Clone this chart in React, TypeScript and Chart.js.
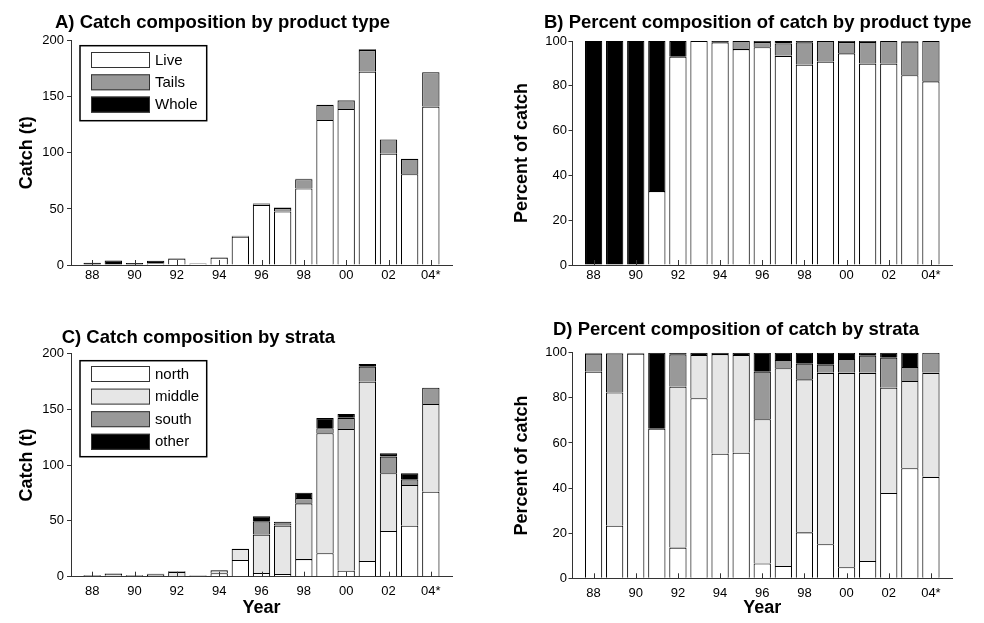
import React, { useEffect, useRef } from "react";
import { Chart, registerables } from "chart.js";

Chart.register(...registerables);

// ---------- data ----------
const years = [1988, 1989, 1990, 1991, 1992, 1993, 1994, 1995, 1996, 1997, 1998, 1999, 2000, 2001, 2002, 2003, 2004];
const tickYears = [1988, 1990, 1992, 1994, 1996, 1998, 2000, 2002, 2004];
const tickLabels = ["88", "90", "92", "94", "96", "98", "00", "02", "04*"];

// A) catch (t) by product type
const liveCatch = [0, 0, 0, 1.25, 5.6, 1.4, 6.6, 25.2, 53.7, 47.8, 68.2, 129.3, 139.2, 172.4, 99.3, 80.9, 141.3];
const tailsCatch = [0, 0, 0, 0, 0, 0, 0, 0.9, 1.1, 3.0, 8.3, 13.5, 7.5, 19.2, 12.7, 13.6, 30.6];
const wholeCatch = [2.0, 4.0, 1.8, 2.55, 0.4, 0, 0, 0, 0.3, 0.5, 0.5, 0, 0.5, 0.7, 0, 0.3, 0];

// B) percent of catch by product type
const livePct = [0, 0, 0, 33, 93, 100, 99.4, 96.4, 97.2, 93.4, 89.4, 90.8, 94.5, 89.9, 89.9, 84.7, 82];
const tailsPct = [0, 0, 0, 0, 0, 0, 0, 3.6, 2.3, 5.5, 10, 9.2, 5, 9.7, 10.1, 15, 18];
const wholePct = [100, 100, 100, 67, 7, 0, 0.6, 0, 0.5, 1.1, 0.6, 0, 0.5, 0.4, 0, 0.3, 0];

// C) catch (t) by strata
const northCatch = [1.4, 0.75, 1.2, 1.7, 0.65, 0.95, 3.2, 15.0, 3.3, 2.5, 15.8, 21.1, 5.4, 14.1, 40.9, 45.7, 76.1];
const middleCatch = [0, 1.9, 0, 0, 3.6, 0.25, 2.5, 9.9, 34.4, 43.3, 49.9, 107.4, 126.9, 160.5, 51.7, 36.5, 78.5];
const southCatch = [0.12, 0.55, 0, 0, 0.7, 0, 0, 0, 11.9, 1.9, 4.7, 4.5, 9.9, 13.4, 14.9, 5.0, 14.6];
const otherCatch = [0, 0, 0, 0.9, 0.05, 0, 0.05, 0.2, 4.5, 1.6, 4.8, 9.0, 3.5, 2.5, 3.0, 5.4, 0];

// D) percent of catch by strata
const northPct = [91.6, 23.3, 99.6, 66.3, 13.6, 79.8, 55.2, 55.7, 6.6, 5.5, 20.4, 15.1, 4.9, 7.7, 37.8, 48.8, 45.0];
const middlePct = [0, 59.1, 0, 0, 71.3, 19.2, 44.2, 43.3, 63.9, 87.6, 67.8, 76.0, 86.2, 83.4, 46.7, 38.7, 46.1];
const southPct = [8.0, 17.3, 0, 0, 14.4, 0, 0, 0, 21.1, 3.7, 6.9, 3.6, 6.1, 7.6, 13.3, 6.2, 8.9];
const otherPct = [0.4, 0.3, 0.4, 33.7, 0.7, 1.0, 0.6, 1.0, 8.4, 3.2, 4.9, 5.3, 2.8, 1.3, 2.2, 6.3, 0];

// ---------- styles ----------
const FAMILY = "'Liberation Sans', Arial, Helvetica, sans-serif";
const AXIS = "#333333";
const WHITE = "#ffffff";
const LIGHT = "#e6e6e6";
const GREY = "#999999";
const BLACK = "#000000";

type Series = { label: string; values: number[]; color: string };
type Spec = {
  series: Series[];
  yMax: number;
  yStep: number;
  yTitle: string;
  showYear: boolean;
  yW: number;
  xH: number;
  pad: { top: number; right: number; bottom: number; left: number };
  yTitlePad: number;
  yTickPad: number;
  xTickPad: number;
  title: { text: string; x: number; y: number };
  legend?: { dx: number; dy: number; w: number; h: number; first: number; pitch: number };
};

function decorPlugin(spec: Spec) {
  return {
    id: "decor",
    afterDatasetsDraw(chart: any) {
      const { ctx, chartArea } = chart;
      const xs = chart.scales.x;
      ctx.save();
      ctx.strokeStyle = AXIS;
      ctx.lineWidth = 1;
      ctx.beginPath();
      xs.ticks.forEach((t: any) => {
        const px = Math.round(xs.getPixelForValue(t.value)) + 0.5;
        ctx.moveTo(px, chartArea.bottom);
        ctx.lineTo(px, chartArea.bottom - 5);
      });
      ctx.stroke();
      ctx.restore();
    },
    afterDraw(chart: any) {
      const { ctx, chartArea } = chart;
      ctx.save();
      ctx.fillStyle = "#000";
      ctx.font = `bold 18.5px ${FAMILY}`;
      ctx.textBaseline = "alphabetic";
      ctx.textAlign = "left";
      ctx.fillText(spec.title.text, spec.title.x, spec.title.y);
      const lg = spec.legend;
      if (lg) {
        const bx = chartArea.left + lg.dx;
        const by = chartArea.top + lg.dy;
        ctx.fillStyle = "#fff";
        ctx.fillRect(bx, by, lg.w, lg.h);
        ctx.strokeStyle = "#000";
        ctx.lineWidth = 1.5;
        ctx.strokeRect(bx, by, lg.w, lg.h);
        ctx.font = `15px ${FAMILY}`;
        ctx.textBaseline = "middle";
        chart.data.datasets.forEach((ds: any, i: number) => {
          const sy = by + lg.first + i * lg.pitch;
          ctx.fillStyle = ds.backgroundColor;
          ctx.fillRect(bx + 11, sy, 59, 16);
          ctx.strokeStyle = "#333";
          ctx.lineWidth = 1;
          ctx.strokeRect(bx + 11.5, sy + 0.5, 58, 15);
          ctx.fillStyle = "#000";
          ctx.fillText(ds.label, bx + 75, sy + 8.5);
        });
      }
      ctx.restore();
    },
  };
}

function makeConfig(spec: Spec): any {
  return {
    type: "bar",
    data: {
      datasets: spec.series.map((s) => ({
        label: s.label,
        data: years.map((yr, i) => ({ x: yr, y: s.values[i] })),
        backgroundColor: s.color,
        borderColor: "#000000",
        borderWidth: 1.1,
        barPercentage: 0.82,
        categoryPercentage: 1,
      })),
    },
    options: {
      responsive: false,
      animation: false,
      devicePixelRatio: 1,
      layout: { padding: spec.pad },
      plugins: { legend: { display: false }, tooltip: { enabled: false }, title: { display: false } },
      scales: {
        x: {
          type: "linear",
          min: 1987,
          max: 2005,
          stacked: true,
          offset: false,
          afterBuildTicks: (s: any) => {
            s.ticks = tickYears.map((v) => ({ value: v }));
          },
          afterFit: (s: any) => {
            s.height = spec.xH;
          },
          grid: { display: true, drawOnChartArea: false, drawTicks: false, offset: false },
          border: { display: true, color: AXIS, width: 1 },
          ticks: {
            autoSkip: false,
            maxRotation: 0,
            minRotation: 0,
            padding: spec.xTickPad,
            color: "#000",
            font: { size: 13, family: FAMILY },
            callback: (v: any) => {
              const k = tickYears.indexOf(Number(v));
              return k >= 0 ? tickLabels[k] : "";
            },
          },
          title: spec.showYear
            ? {
                display: true,
                text: "Year",
                color: "#000",
                font: { size: 18, weight: "bold", family: FAMILY },
                padding: { top: 0, bottom: 4 },
              }
            : { display: false },
        },
        y: {
          min: 0,
          max: spec.yMax,
          stacked: true,
          afterFit: (s: any) => {
            s.width = spec.yW;
          },
          grid: { display: true, drawOnChartArea: false, drawTicks: true, tickLength: 4, color: AXIS },
          border: { display: true, color: AXIS, width: 1 },
          ticks: {
            stepSize: spec.yStep,
            padding: spec.yTickPad,
            color: "#000",
            font: { size: 13, family: FAMILY },
          },
          title: {
            display: true,
            text: spec.yTitle,
            color: "#000",
            font: { size: 18, weight: "bold", family: FAMILY },
            padding: { top: spec.yTitlePad, bottom: 0 },
          },
        },
      },
    },
    plugins: [decorPlugin(spec)],
  };
}

const productCatch: Series[] = [
  { label: "Live", values: liveCatch, color: WHITE },
  { label: "Tails", values: tailsCatch, color: GREY },
  { label: "Whole", values: wholeCatch, color: BLACK },
];
const productPct: Series[] = [
  { label: "Live", values: livePct, color: WHITE },
  { label: "Tails", values: tailsPct, color: GREY },
  { label: "Whole", values: wholePct, color: BLACK },
];
const strataCatch: Series[] = [
  { label: "north", values: northCatch, color: WHITE },
  { label: "middle", values: middleCatch, color: LIGHT },
  { label: "south", values: southCatch, color: GREY },
  { label: "other", values: otherCatch, color: BLACK },
];
const strataPct: Series[] = [
  { label: "north", values: northPct, color: WHITE },
  { label: "middle", values: middlePct, color: LIGHT },
  { label: "south", values: southPct, color: GREY },
  { label: "other", values: otherPct, color: BLACK },
];

const panels: { left: number; top: number; w: number; h: number; spec: Spec }[] = [
  {
    left: 0, top: 0, w: 492, h: 300,
    spec: {
      series: productCatch, yMax: 200, yStep: 50, yTitle: "Catch (t)", showYear: false,
      yW: 71, xH: 35, pad: { top: 40.7, right: 40, bottom: 0, left: 0 },
      yTitlePad: 16.5, yTickPad: 3, xTickPad: 3,
      title: { text: "A) Catch composition by product type", x: 55, y: 28.3 },
      legend: { dx: 9, dy: 5, w: 126.7, h: 75, first: 6.3, pitch: 22.3 },
    },
  },
  {
    left: 492, top: 0, w: 492, h: 300,
    spec: {
      series: productPct, yMax: 100, yStep: 20, yTitle: "Percent of catch", showYear: false,
      yW: 80.5, xH: 35, pad: { top: 41, right: 32, bottom: 0, left: 0 },
      yTitlePad: 19.7, yTickPad: 1.5, xTickPad: 3,
      title: { text: "B) Percent composition of catch by product type", x: 52, y: 28.3 },
    },
  },
  {
    left: 0, top: 300, w: 492, h: 323,
    spec: {
      series: strataCatch, yMax: 200, yStep: 50, yTitle: "Catch (t)", showYear: true,
      yW: 71, xH: 46.3, pad: { top: 53.3, right: 40, bottom: 0, left: 0 },
      yTitlePad: 16.5, yTickPad: 3, xTickPad: 7,
      title: { text: "C) Catch composition by strata", x: 61.7, y: 43.3 },
      legend: { dx: 9, dy: 7.4, w: 126.7, h: 96, first: 5.3, pitch: 22.6 },
    },
  },
  {
    left: 492, top: 300, w: 492, h: 323,
    spec: {
      series: strataPct, yMax: 100, yStep: 20, yTitle: "Percent of catch", showYear: true,
      yW: 80.5, xH: 44.7, pad: { top: 52.7, right: 32, bottom: 0, left: 0 },
      yTitlePad: 19.7, yTickPad: 1.5, xTickPad: 7,
      title: { text: "D) Percent composition of catch by strata", x: 61, y: 35 },
    },
  },
];

export default function App() {
  const refs = useRef<(HTMLCanvasElement | null)[]>([]);

  useEffect(() => {
    const charts = panels.map((p, i) => new Chart(refs.current[i] as HTMLCanvasElement, makeConfig(p.spec)));
    return () => charts.forEach((c) => c.destroy());
  }, []);

  return (
    <div style={{ position: "absolute", left: 0, top: 0, width: 984, height: 623, background: "#fff", overflow: "hidden" }}>
      {panels.map((p, i) => (
        <canvas
          key={i}
          ref={(el) => {
            refs.current[i] = el;
          }}
          width={p.w}
          height={p.h}
          style={{ position: "absolute", left: p.left, top: p.top, width: p.w, height: p.h }}
        />
      ))}
    </div>
  );
}
